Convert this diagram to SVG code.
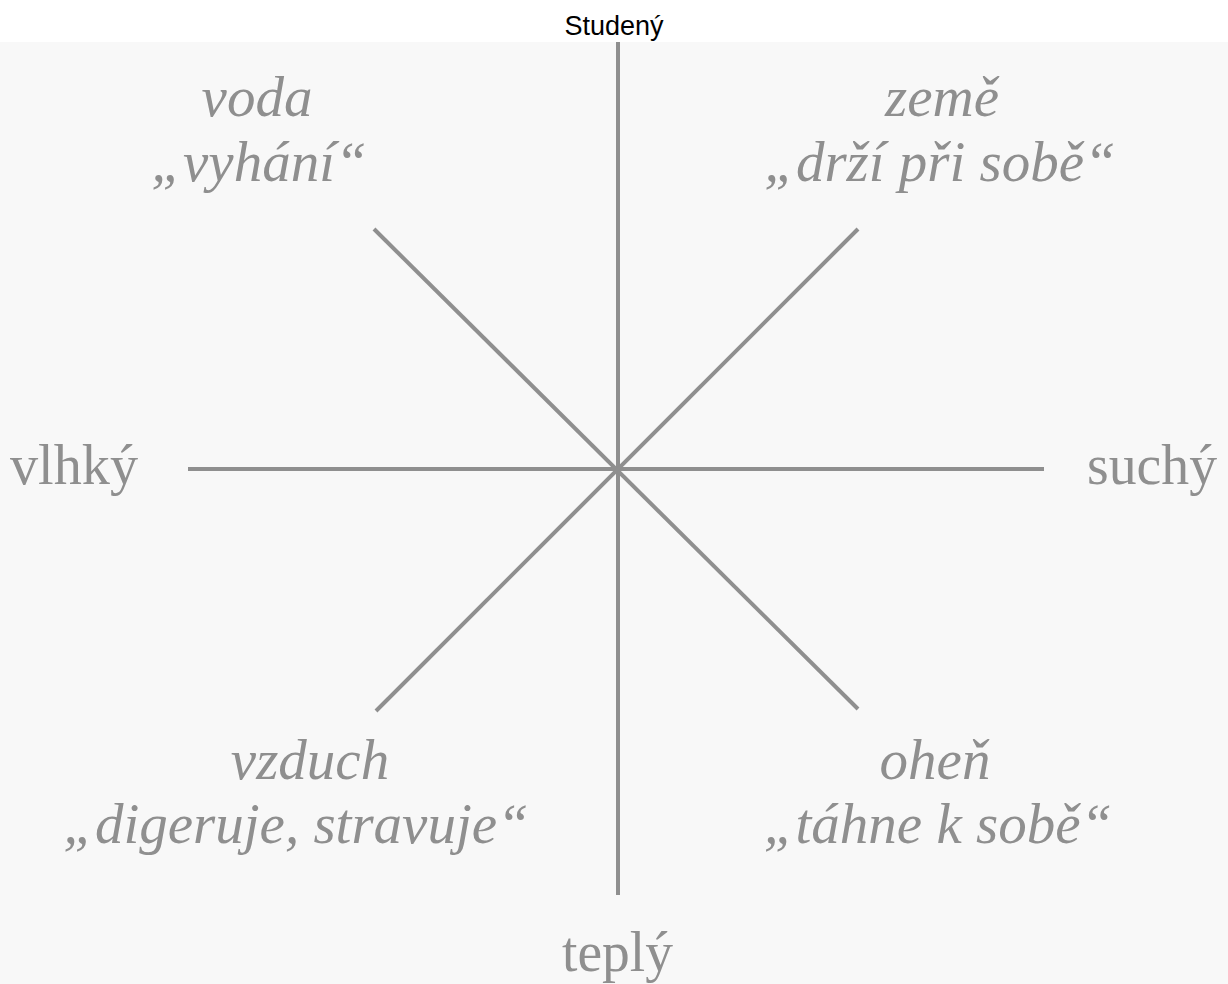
<svg xmlns="http://www.w3.org/2000/svg" width="1228" height="984" viewBox="0 0 1228 984">
<style>
.ax{stroke:#8f8f8f;stroke-width:4;stroke-linecap:butt;fill:none}
.it{font-family:"Liberation Serif",serif;font-style:italic;font-size:57px;fill:#8f8f8f;text-anchor:middle}
.rm{font-family:"Liberation Serif",serif;font-size:56px;fill:#8f8f8f}
.hd{font-family:"Liberation Sans",Arial,sans-serif;font-size:27px;fill:#000;text-anchor:middle}
</style>
<rect x="0" y="0" width="1228" height="984" fill="#ffffff"/>
<rect x="0" y="42" width="1228" height="942" fill="#f8f8f8"/>
<g id="connectors">
<line class="ax" x1="618" y1="42" x2="618" y2="895"/>
<line class="ax" x1="188" y1="469" x2="1044" y2="469"/>
<line class="ax" x1="374" y1="229" x2="858" y2="709"/>
<line class="ax" x1="858" y1="229" x2="376" y2="711"/>
</g>
<g id="studeny"><text class="hd" x="614" y="35">Studený</text></g>
<g id="voda">
<text class="it" x="257" y="116">voda</text>
<text class="it" x="259" y="181">„vyhání“</text>
</g>
<g id="zeme">
<text class="it" x="942" y="116">země</text>
<text class="it" x="940" y="181">„drží při sobě“</text>
</g>
<g id="vlhky"><text class="rm" x="10" y="484" textLength="128" lengthAdjust="spacingAndGlyphs">vlhký</text></g>
<g id="suchy"><text class="rm" x="1087" y="484" textLength="130" lengthAdjust="spacingAndGlyphs">suchý</text></g>
<g id="vzduch">
<text class="it" x="310" y="779">vzduch</text>
<text class="it" x="296" y="843">„digeruje, stravuje“</text>
</g>
<g id="ohen">
<text class="it" x="935" y="779">oheň</text>
<text class="it" x="938" y="843">„táhne k sobě“</text>
</g>
<g id="teply"><text class="rm" x="562" y="971" textLength="111" lengthAdjust="spacingAndGlyphs">teplý</text></g>
</svg>
